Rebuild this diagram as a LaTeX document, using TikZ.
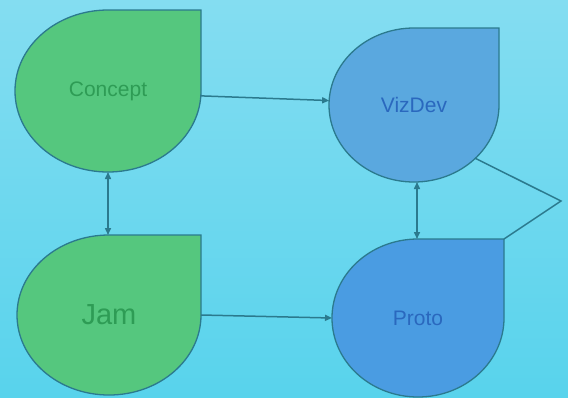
\documentclass[tikz,border=0pt]{standalone}
\usepackage{fontspec}
\setmainfont{Liberation Sans}
\usetikzlibrary{shapes.geometric,arrows.meta,backgrounds,calc}
\definecolor{bgtop}{HTML}{84DDF1}
\definecolor{bgbot}{HTML}{58D3EC}
\definecolor{greenfill}{HTML}{55C77E}
\definecolor{greentext}{HTML}{2E9C55}
\definecolor{bluefillA}{HTML}{5AA8DF}
\definecolor{bluefillB}{HTML}{4A9CE2}
\definecolor{bluetext}{HTML}{2A68BE}
\definecolor{edgecol}{HTML}{2B7A8E}
\newcommand\teardrop[2]{%
  \path[#2] let \p1=($(#1.east)-(#1.center)$), \p2=($(#1.north)-(#1.center)$) in
    (#1.north) arc[start angle=90,end angle=360,x radius=\x1,y radius=\y2] |- (#1.north) -- cycle;}
\begin{document}
\begin{tikzpicture}[x=1pt,y=1pt,
  tear/.style={ellipse,inner sep=0pt,outer sep=0pt},
  tearline/.style={draw=edgecol,line width=1.3pt},
  conn/.style={draw=edgecol,line width=1.5pt},
  tip/.style={-{Triangle[length=7pt,width=6pt]}},
  tips/.style={{Triangle[length=7pt,width=6pt]}-{Triangle[length=7pt,width=6pt]}}]
\useasboundingbox (0,0) rectangle (568,-397);
\node[tear,minimum width=186pt,minimum height=162pt,text=greentext,font=\fontsize{21}{24}\selectfont] (concept) at (108,-91) {Concept};
\node[tear,minimum width=184pt,minimum height=160pt,text=greentext,font=\fontsize{29}{32}\selectfont] (jam) at (109,-315) {Jam};
\node[tear,minimum width=170pt,minimum height=154pt,text=bluetext,font=\fontsize{21}{24}\selectfont] (vizdev) at (414,-105) {VizDev};
\node[tear,minimum width=172pt,minimum height=158pt,text=bluetext,font=\fontsize{21}{24}\selectfont] (proto) at (418,-318) {Proto};
\coordinate (join) at (561,-201);
\begin{pgfonlayer}{background}
\shade[top color=bgtop,bottom color=bgbot] (0,0) rectangle (568,-397);
\teardrop{concept}{tearline,fill=greenfill}
\teardrop{jam}{tearline,fill=greenfill}
\teardrop{vizdev}{tearline,fill=bluefillA}
\teardrop{proto}{tearline,fill=bluefillB}
\end{pgfonlayer}
\draw[conn,tip] (concept.-3) -- (vizdev.177);
\draw[conn,tip] (jam.east) -- (proto.west);
\draw[conn,tips] (concept.south) -- (concept.south |- jam.north);
\draw[conn,tips] (vizdev.south -| 417,0) -- (417,0 |- proto.north);
\draw[conn] (vizdev.-41) -- (join) -- (proto.east |- proto.north);
\end{tikzpicture}
\end{document}
